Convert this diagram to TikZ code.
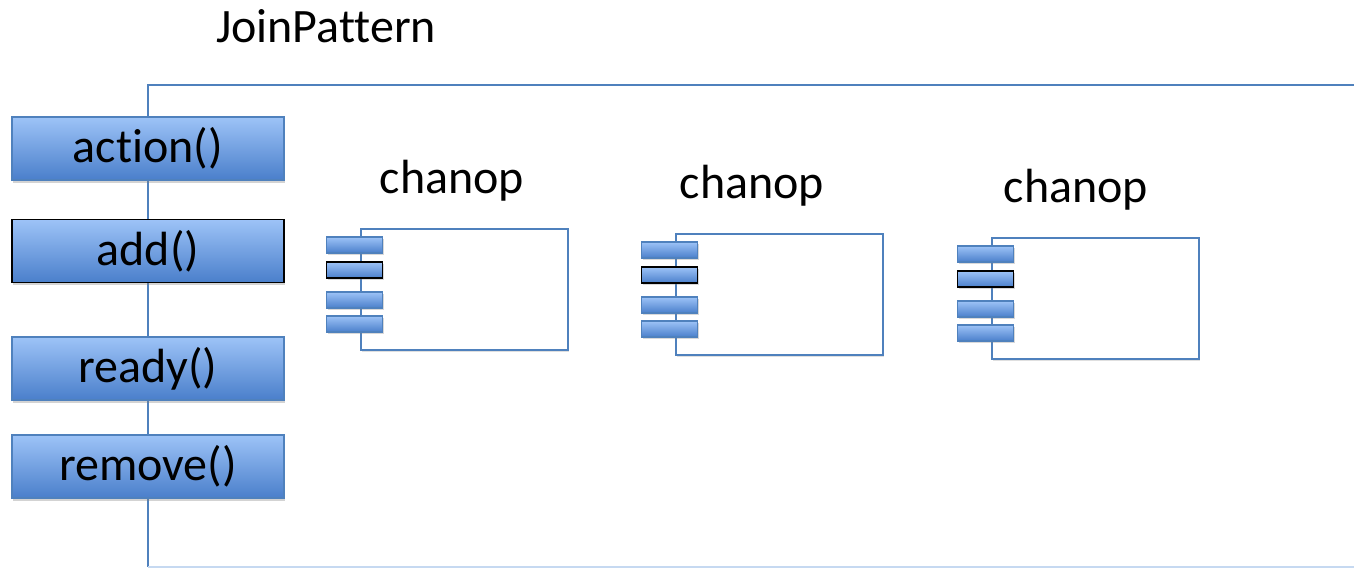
\documentclass[tikz,border=0pt]{standalone}
\usepackage{fontspec}
\setmainfont{Carlito}[Ligatures={NoCommon}]
\usetikzlibrary{shadows}
\definecolor{frameblue}{HTML}{4F81BD}
\definecolor{toplight}{HTML}{9DC3F7}
\definecolor{botdark}{HTML}{4A7FCB}
\definecolor{faint}{HTML}{C6D9F1}
\tikzset{
  x=1pt,y=-1pt,
  method/.style={draw=frameblue,line width=1.2pt,top color=toplight,bottom color=botdark,
    minimum width=272pt,minimum height=63pt,inner sep=0pt,font=\fontsize{48}{52}\selectfont,
    drop shadow={shadow xshift=1pt,shadow yshift=-3pt,opacity=0.35}},
  selmethod/.style={method,draw=black,line width=1.6pt},
  port/.style={draw=frameblue,line width=1.2pt,top color=toplight,bottom color=botdark,
    minimum width=56pt,minimum height=16pt,inner sep=0pt,
    drop shadow={shadow xshift=1pt,shadow yshift=-2pt,opacity=0.3}},
  selport/.style={port,draw=black,line width=1.6pt},
  chan/.style={draw=frameblue,line width=1.2pt,fill=white,minimum width=207pt,minimum height=121pt,inner sep=0pt,
    drop shadow={shadow xshift=1pt,shadow yshift=-2pt,opacity=0.25}},
  lbl/.style={font=\fontsize{48}{52}\selectfont,inner sep=0pt},
}
\begin{document}
\begin{tikzpicture}
\useasboundingbox (0,0) rectangle (1354,569);
% frame
\coordinate (ftr) at (1354,85);
\coordinate (ftl) at (148,85);
\coordinate (fbl) at (148,567);
\coordinate (fbr) at (1354,567);
\draw[frameblue,line width=1.3pt] (ftr) -- (ftl) -- (fbl);
\draw[faint,line width=1.3pt] (fbl) -- (fbr);
\node[lbl] (title) at (326,26) {JoinPattern};
% methods
\node[method] (action) at (148,148.5) {action()};
\node[selmethod] (add) at (148,251) {add()};
\node[method] (ready) at (148,368.5) {ready()};
\node[method] (remove) at (148,466.5) {remove()};
% chanops
\foreach \i/\dx/\dy in {1/0/0,2/300/5,3/624/9}{
  \begin{scope}[shift={(\dx,\dy)}]
    \node[lbl] (lab\i) at (452,181) {chanop};
  \end{scope}
}
\foreach \i/\dx/\dy in {1/0/0,2/315/5,3/631/9}{
  \begin{scope}[shift={(\dx,\dy)}]
    \node[chan] (ch\i) at (464.5,289.5) {};
    \node[port] (p\i a) at (354.5,245) {};
    \node[selport] (p\i b) at (354.5,270) {};
    \node[port] (p\i c) at (354.5,300) {};
    \node[port] (p\i d) at (354.5,324) {};
  \end{scope}
}
\end{tikzpicture}
\end{document}
